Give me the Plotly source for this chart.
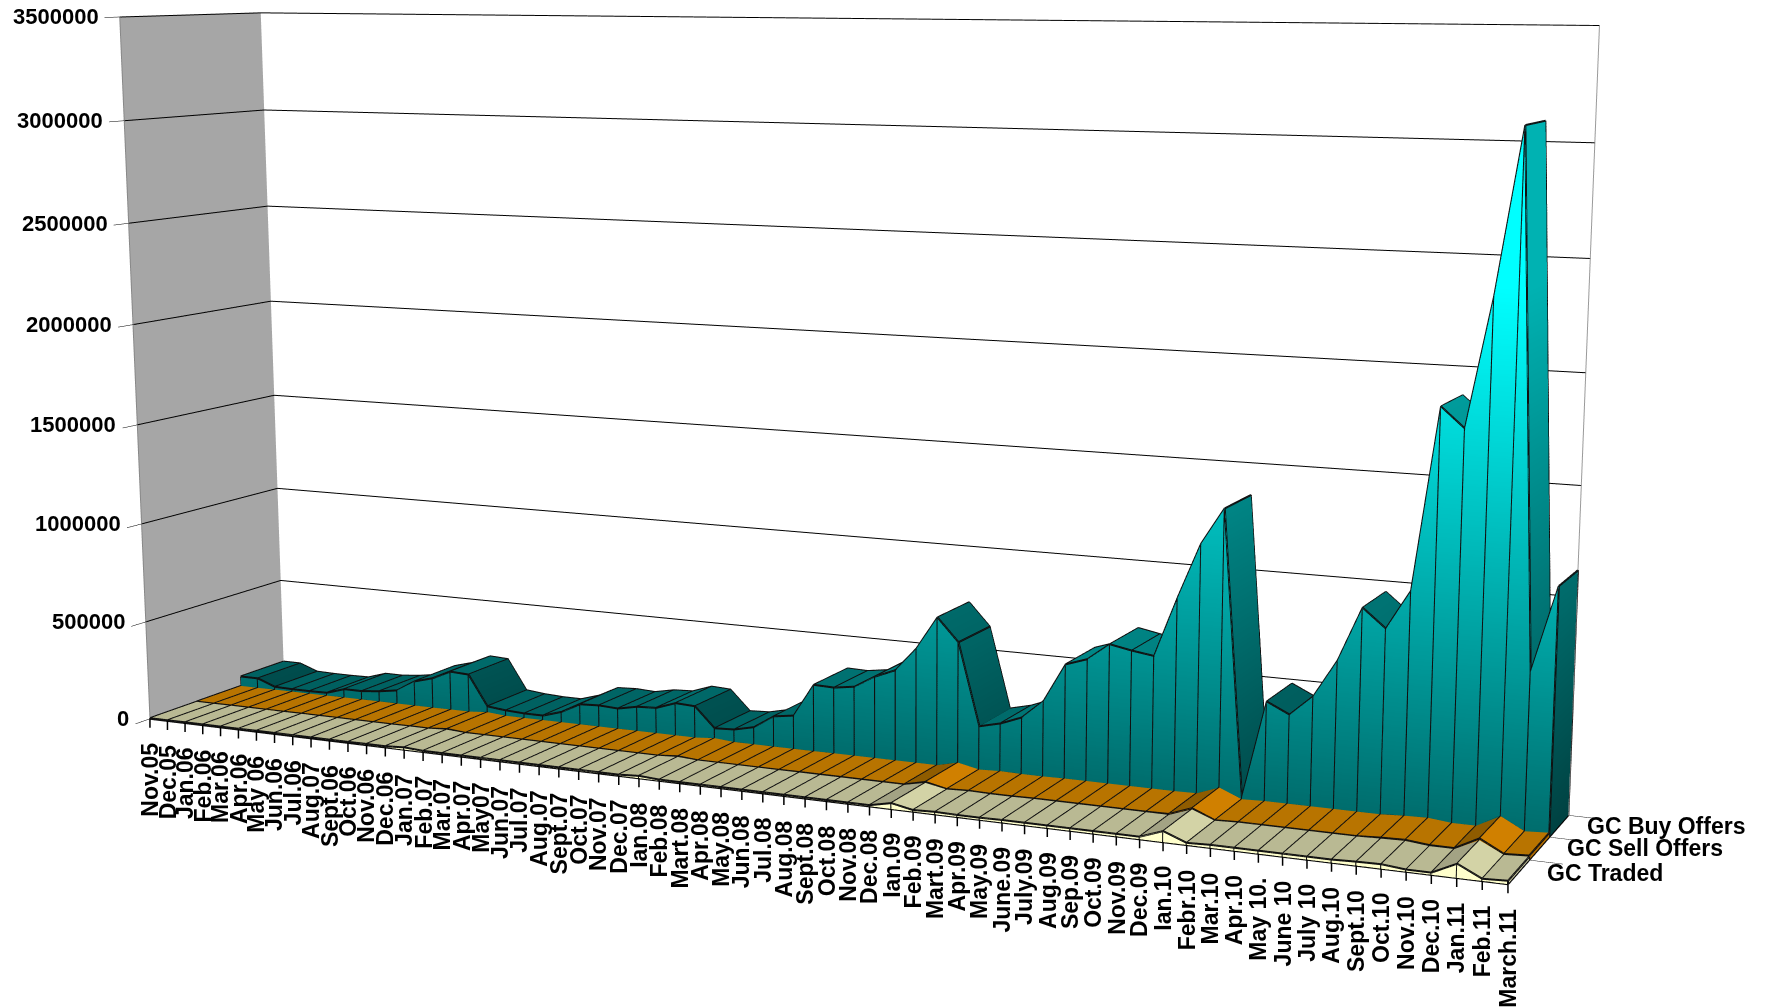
import numpy as np
import plotly.graph_objects as go

categories = ["Nov.05","Dec.05","Jan.06","Feb.06","Mar.06","Apr.06","May 06","Jun.06","Jul.06","Aug.07","Sept.06","Oct.06","Nov.06","Dec.06","Jan.07","Feb.07","Mar.07","Apr.07","May07","Jun.07","Jul.07","Aug.07","Sept.07","Oct.07","Nov.07","Dec.07","Ian.08","Feb.08","Mart.08","Apr.08","May.08","Jun.08","Jul.08","Aug.08","Sept.08","Oct.08","Nov.08","Dec.08","Ian.09","Feb.09","Mart.09","Apr.09","May.09","June.09","July.09","Aug.09","Sep.09","Oct.09","Nov.09","Dec.09","Ian.10","Febr.10","Mar.10","Apr.10","May 10.","June 10","July 10","Aug.10","Sept.10","Oct.10","Nov.10","Dec.10","Jan.11","Feb.11","March.11"]
buy = [55,55,20,18,18,20,50,50,60,75,133,160,205,200,45,35,30,30,60,110,115,110,130,135,170,165,65,70,93,158,173,336,333,348,408,450,565,725,615,220,245,285,375,560,595,675,655,640,920,1180,1350,20,480,430,525,700,950,865,1045,1870,1780,2360,3090,730,1120]
sell = [4,4,5,5,5,5,6,6,6,6,6,6,7,7,15,7,7,7,7,7,7,7,7,7,7,7,15,7,7,7,7,7,8,8,8,8,8,8,32,10,14,12,12,14,14,14,14,14,14,16,55,12,16,16,16,16,16,16,22,25,14,14,70,14,20]
traded = [3,3,4,4,4,4,5,5,5,5,5,5,6,6,12,6,6,6,6,6,6,6,6,6,6,6,12,6,6,6,6,6,6,6,6,6,6,6,28,8,12,10,10,12,12,12,12,12,12,12,50,10,14,14,14,14,14,14,18,20,10,10,62,10,15]
series_names = ["GC Traded","GC Sell Offers","GC Buy Offers"]
z_ticks = [0,500000,1000000,1500000,2000000,2500000,3000000,3500000]

EYE = (0.9060,-1.8826,0.2977)
CENTER = (0.0522,0.0090,-0.0741)
UP = (-0.0139,0,1)
ASPECT = (1,0.1669,0.5061)
FOVY = 0.3199

n=len(categories);xs=np.arange(n,dtype=float)
scale=1000.
def mesh(x,y,z,i,j,k,**kw):
    return go.Mesh3d(x=x,y=y,z=z,i=i,j=j,k=k,flatshading=True,hoverinfo="skip",showscale=False,
        lighting=dict(ambient=1,diffuse=0,specular=0,fresnel=0,roughness=1),**kw)
def scaled_cs(f):
    b=(0,108,108);t=(0,255,255)
    c=lambda a:"rgb(%d,%d,%d)"%tuple(int(v*f) for v in a)
    return [[0,c(b)],[1,c(t)]]
traces=[]
def ribbon(vals,y0,kind,flat,rise,fall,front,cap):
    v=np.array(vals,float)*scale
    X=np.r_[xs,xs];Y=np.full(2*n,float(y0));Z=np.r_[np.zeros(n),v]
    I=[];J=[];K=[]
    for a in range(n-1):
        I+=[a,a];J+=[a+1,n+a+1];K+=[n+a+1,n+a]
    if kind=="teal":
        traces.append(mesh(X,Y,Z,I,J,K,intensity=Z,colorscale=scaled_cs(1),cmin=0,cmax=2400000))
    else:
        traces.append(mesh(X,Y,Z,I,J,K,color=front))
    X=np.r_[xs,xs];Y=np.r_[np.full(n,float(y0)),np.full(n,y0+1.)];Z=np.r_[v,v]
    groups={"flat":[], "rise":[], "fall":[]}
    for a in range(n-1):
        d=(v[a+1]-v[a])
        g="flat" if abs(d)<(15000 if kind!="teal" else 30000) else ("rise" if d>0 else "fall")
        groups[g].append(a)
    for g,col in (("flat",flat),("rise",rise),("fall",fall)):
        if not groups[g]: continue
        I=[];J=[];K=[]
        for a in groups[g]:
            I+=[a,a];J+=[a+1,n+a+1];K+=[n+a+1,n+a]
        if kind=="teal":
            traces.append(mesh(X,Y,Z,I,J,K,intensity=Z,colorscale=scaled_cs(col),cmin=0,cmax=2400000))
        else:
            traces.append(mesh(X,Y,Z,I,J,K,color=col))
    X=[xs[-1]]*4;Y=[y0,y0+1,y0+1,y0];Z=[0,0,v[-1],v[-1]]
    if kind=="teal":
        traces.append(mesh(X,Y,Z,[0,0],[1,2],[2,3],intensity=Z,colorscale=scaled_cs(cap),cmin=0,cmax=2400000))
    else:
        traces.append(mesh(X,Y,Z,[0,0],[1,2],[2,3],color=cap))
    lx=[];ly=[];lz=[]
    def seg(xx,yy,zz):
        lx.extend(list(xx)+[None]);ly.extend(list(yy)+[None]);lz.extend(list(zz)+[None])
    seg(xs,[y0]*n,v);seg(xs,[y0+1]*n,v)
    for a in range(n):
        seg([xs[a],xs[a]],[y0,y0+1],[v[a],v[a]])
        seg([xs[a],xs[a]],[y0,y0],[0,v[a]])
    seg([xs[-1]]*2,[y0+1]*2,[0,v[-1]])
    seg([xs[-1]]*2,[y0,y0+1],[0,0])
    seg(xs,[y0]*n,[0]*n)
    traces.append(go.Scatter3d(x=lx,y=ly,z=lz,mode="lines",line=dict(color="#101010",width=4),hoverinfo="skip",showlegend=False))

ribbon(traded,0,"solid","#B9B993","#A3A384","#D3D3A6","#FFFFCC","#C8C8A0")
ribbon(sell,1,"solid","#B87400","#8F5C00","#D08000","#CC7A00","#B06C00")
ribbon(buy,2,"teal",0.88,0.95,0.7,None,0.62)

zmax=z_ticks[-1]
traces.append(go.Scatter3d(x=[n-1,n-1],y=[3,3],z=[zmax,0],mode="lines",line=dict(color="#9a9a9a",width=2),hoverinfo="skip",showlegend=False))
fig=go.Figure(traces)
F="Liberation Sans"
bold=lambda s:"<b>%s</b>"%s
ann=[]
for i,c in enumerate(categories):
    ann.append(dict(x=float(i),y=0,z=0,text=" ",showarrow=True,arrowhead=0,arrowwidth=1.5,arrowcolor="black",ax=0,ay=11,standoff=0,font=dict(size=1)))
    ann.append(dict(x=float(i),y=0,z=0,text=bold(c),textangle=-90,showarrow=False,yanchor="top",xanchor="center",yshift=-22,font=dict(family=F,size=23,color="black")))
for t in z_ticks:
    ann.append(dict(x=0,y=0,z=t,text=bold(str(t)),showarrow=False,xanchor="right",yanchor="middle",xshift=-19,font=dict(family=F,size=22,color="black")))
for k,name in enumerate(series_names):
    ann.append(dict(x=float(n-1),y=k+1,z=0,text=bold(name),showarrow=False,xanchor="left",yanchor="middle",xshift=[16,16,17][k],yshift=[-13,-11,-11][k],font=dict(family=F,size=23,color="black")))
ax=dict(showspikes=False,zeroline=False,title=dict(text=""),showticklabels=False,ticks="outside",tickcolor="black",ticklen=8,showline=True,linecolor="black",linewidth=2)
fig.update_layout(width=1767,height=1008,margin=dict(l=0,r=0,t=0,b=0),paper_bgcolor="white",showlegend=False,
  scene=dict(domain=dict(x=[0,1],y=[0,1]),aspectmode="manual",aspectratio=dict(x=ASPECT[0],y=ASPECT[1],z=ASPECT[2]),annotations=ann,
    camera=dict(eye=dict(x=EYE[0],y=EYE[1],z=EYE[2]),center=dict(x=CENTER[0],y=CENTER[1],z=CENTER[2]),up=dict(x=UP[0],y=UP[1],z=UP[2]),projection=dict(type="perspective")),
    xaxis=dict(ax,range=[0,n-1],ticks="",showgrid=False,showbackground=True,backgroundcolor="#A6A6A6"),
    yaxis=dict(ax,range=[0,3],tickmode="array",tickvals=[1,2,3],showgrid=False,showbackground=True,backgroundcolor="white"),
    zaxis=dict(ax,range=[0,zmax],tickmode="array",tickvals=z_ticks,showgrid=True,gridcolor="#000000",gridwidth=2,showbackground=False,linecolor="#888888"),
  ))
js="""(function(){var gd=document.getElementById('{plot_id}');var n=0;
var t=setInterval(function(){n++;var s=gd._fullLayout&&gd._fullLayout.scene&&gd._fullLayout.scene._scene;
if(s&&s.glplot){s.glplot.fovy=FOV;s.glplot.redraw();if(n>6)clearInterval(t);} if(n>200)clearInterval(t);},50);})();""".replace("FOV","%.5f"%FOVY)
fig.write_html("out.html",post_script=js)
